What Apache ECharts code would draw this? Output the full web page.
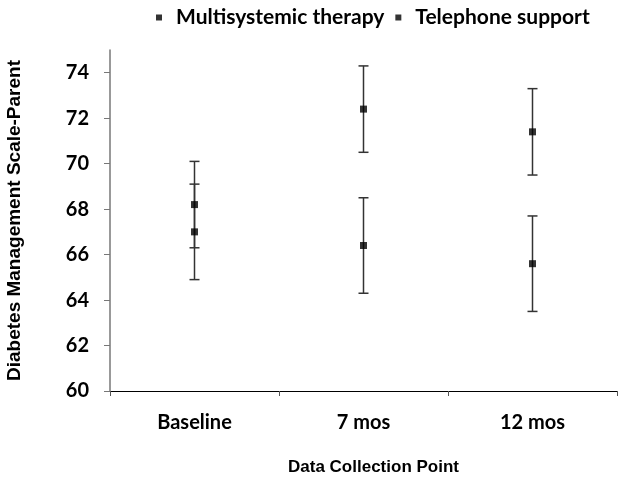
<!DOCTYPE html>
<html><head><meta charset="utf-8">
<script src="https://cdn.jsdelivr.net/npm/echarts@6/dist/echarts.min.js"></script>
<style>html,body{margin:0;padding:0;background:#fff}#c{width:624px;height:480px}</style>
</head><body><div id="c"></div>
<script>
const categories = ['Baseline', '7 mos', '12 mos'];
const mstMean = [68.2, 72.4, 71.4];
const mstErr = [1.9, 1.9, 1.9];
const telMean = [67.0, 66.4, 65.6];
const telErr = [2.1, 2.1, 2.1];
const yTicks = [60, 62, 64, 66, 68, 70, 72, 74];

const chart = echarts.init(document.getElementById('c'));
function errData(mean, err) {
  return mean.map((m, i) => [i, m - err[i], m + err[i]]);
}
function errRender(params, api) {
  const x = api.value(0);
  const lo = api.coord([x, api.value(1)]);
  const hi = api.coord([x, api.value(2)]);
  const w = 5;
  const style = { stroke: '#333', lineWidth: 1.5 };
  return {
    type: 'group',
    children: [
      { type: 'line', shape: { x1: lo[0], y1: lo[1], x2: hi[0], y2: hi[1] }, style },
      { type: 'line', shape: { x1: lo[0] - w, y1: lo[1], x2: lo[0] + w, y2: lo[1] }, style },
      { type: 'line', shape: { x1: hi[0] - w, y1: hi[1], x2: hi[0] + w, y2: hi[1] }, style }
    ]
  };
}
chart.setOption({
  animation: false,
  legend: {
    top: 2, left: 151,
    data: ['Multisystemic therapy', 'Telephone support'],
    icon: 'rect', itemWidth: 6, itemHeight: 6, itemGap: 11,
    textStyle: { fontFamily: 'Lato', fontWeight: 'bold', fontSize: 21, color: '#000', padding: [0, 0, 0, 9] }
  },
  grid: { left: 110, right: 7, top: 50, bottom: 89, outerBoundsMode: 'none' },
  xAxis: {
    type: 'category', data: categories,
    name: 'Data Collection Point', nameLocation: 'middle', nameGap: 68,
    nameTextStyle: { fontFamily: 'Liberation Sans', fontWeight: 'bold', fontSize: 17, color: '#000', padding: [0, 0, 0, 20] },
    axisLine: { lineStyle: { color: '#000', width: 1 } },
    axisTick: { show: true, length: 5, lineStyle: { color: '#555' } },
    axisLabel: { fontFamily: 'Lato', fontWeight: 'bold', fontSize: 20, color: '#000', margin: 22 }
  },
  yAxis: {
    type: 'value', min: 60, max: 75,
    name: 'Diabetes Management Scale-Parent', nameLocation: 'middle', nameGap: 86,
    nameTextStyle: { fontFamily: 'Liberation Sans', fontWeight: 'bold', fontSize: 19, color: '#000' },
    splitLine: { show: false },
    axisLine: { show: true, lineStyle: { color: '#777', width: 1.5 } },
    axisTick: { show: true, length: 6, customValues: yTicks, lineStyle: { color: '#777' } },
    axisLabel: { customValues: yTicks, fontFamily: 'Lato', fontWeight: 'bold', fontSize: 20, color: '#000', margin: 21 }
  },
  series: [
    { type: 'custom', name: 'mstErr', renderItem: errRender, data: errData(mstMean, mstErr), z: 1 },
    { type: 'custom', name: 'telErr', renderItem: errRender, data: errData(telMean, telErr), z: 1 },
    { type: 'scatter', name: 'Multisystemic therapy', data: mstMean, symbol: 'rect', symbolSize: 7,
      itemStyle: { color: '#000' }, z: 3 },
    { type: 'scatter', name: 'Telephone support', data: telMean, symbol: 'rect', symbolSize: 7,
      itemStyle: { color: '#000' }, z: 3 }
  ]
});
</script></body></html>
